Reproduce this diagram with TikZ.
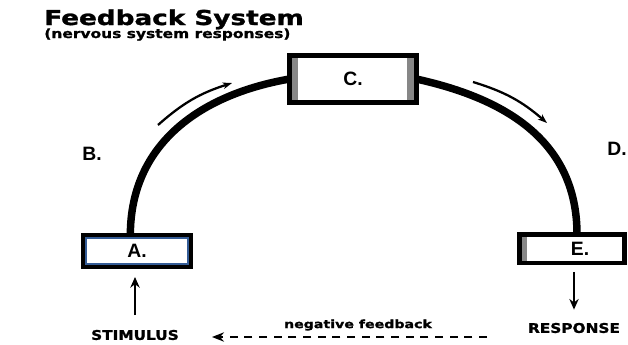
\documentclass[tikz,border=0pt]{standalone}
\usepackage{fontspec}
\setmainfont{Liberation Sans}
\newfontfamily\heavyfont{DejaVu Sans Bold}[FakeBold=1.2]
\usetikzlibrary{arrows.meta}
\definecolor{stripgray}{RGB}{135,135,135}
\definecolor{boxblue}{RGB}{52,92,150}
\tikzset{
  box/.style={draw=black, fill=white, line width=4pt, outer sep=0pt, inner sep=0pt, font=\bfseries\fontsize{14.5}{16}\selectfont},
  lettera/.style={font=\bfseries\fontsize{14.5}{16}\selectfont, inner sep=0pt},
  caps/.style={font=\heavyfont\fontsize{10}{12}\selectfont, xscale=1.15, inner sep=0pt},
  arco/.style={line width=5.6pt},
  freccia/.style={line width=1.7pt, -{Stealth[length=7pt,width=5pt]}},
  frecciadritta/.style={line width=2pt, -{Stealth[length=8pt,width=7pt]}},
}
\begin{document}
\begin{tikzpicture}[x=0.75pt,y=0.75pt]
    \useasboundingbox (0,0) rectangle (628,344);

     % Titolo
    \node[anchor=base west, inner sep=0pt, xscale=1.28, font=\heavyfont\fontsize{15.4}{18}\selectfont] (titolo) at (44,319) {Feedback System};
    \node[anchor=base west, inner sep=0pt, xscale=1.22, font=\heavyfont\fontsize{9.5}{11}\selectfont] (sottotitolo) at (44,306) {(nervous system responses)};

     % Scatole
    \node[box, minimum width=95pt, minimum height=35pt] (boxC) at (353,265) {C.};
    \node[box, line width=3.4pt, minimum width=80.6pt, minimum height=23.6pt] (boxA) at (137,93) {A.};
    \node[box, line width=3.4pt, minimum width=79pt, minimum height=21.4pt] (boxE) at (572,95.5) {\hspace*{12pt}E.};

     % Bande interne
    \fill[stripgray] ([shift={(2pt,-2pt)}]boxC.north west) rectangle ([shift={(6pt,2pt)}]boxC.south west);
    \fill[stripgray] ([shift={(-2pt,-2pt)}]boxC.north east) rectangle ([shift={(-7pt,2pt)}]boxC.south east);
    \draw[boxblue, line width=1.5pt] ([shift={(2.4pt,-2.4pt)}]boxA.north west) rectangle ([shift={(-2.4pt,2.4pt)}]boxA.south east);
    \fill[stripgray] ([shift={(1.7pt,-1.7pt)}]boxE.north west) rectangle ([shift={(5.7pt,1.7pt)}]boxE.south west);

     % Archi
    \draw[arco] ([xshift=-5pt]boxA.north) .. controls +(0,93) and +(-87,-15) .. (boxC.west);
    \draw[arco] (boxC.east) .. controls +(91,-20) and +(0,92) .. ([xshift=3.75pt]boxE.north);

     % Frecce sottili
    \coordinate (b1) at (158,219);
    \coordinate (b2) at (232,261);
    \coordinate (d1) at (473,262);
    \coordinate (d2) at (547,221);
    \draw[freccia] (b1) to[bend left=12] (b2);
    \draw[freccia] (d1) to[bend left=12] (d2);

     % Lettere
    \node[lettera] (labB) at (92,190) {B.};
    \node[lettera] (labD) at (617,195) {D.};

     % Stimolo e risposta
    \node[caps] (stimulus) at (135,9) {STIMULUS};
    \node[caps] (response) at (574,16) {RESPONSE};
    \draw[frecciadritta, shorten <=11pt, shorten >=7.7pt] (stimulus.north) -- (stimulus.north |- boxA.south);
    \draw[frecciadritta, shorten <=6.9pt, shorten >=9.8pt] (response.north |- boxE.south) -- (response.north);

     % Retroazione
    \coordinate (fbinizio) at (487,7);
    \coordinate (fbfine) at (212,7);
    \draw[line width=2.2pt, dash pattern=on 6pt off 5pt, -{Stealth[length=9pt,width=7pt]}] (fbinizio) -- (fbfine);
    \node[caps, font=\heavyfont\fontsize{8.5}{10}\selectfont, xscale=1.25/1.15] (fblabel) at (358,19) {negative feedback};
\end{tikzpicture}
\end{document}
